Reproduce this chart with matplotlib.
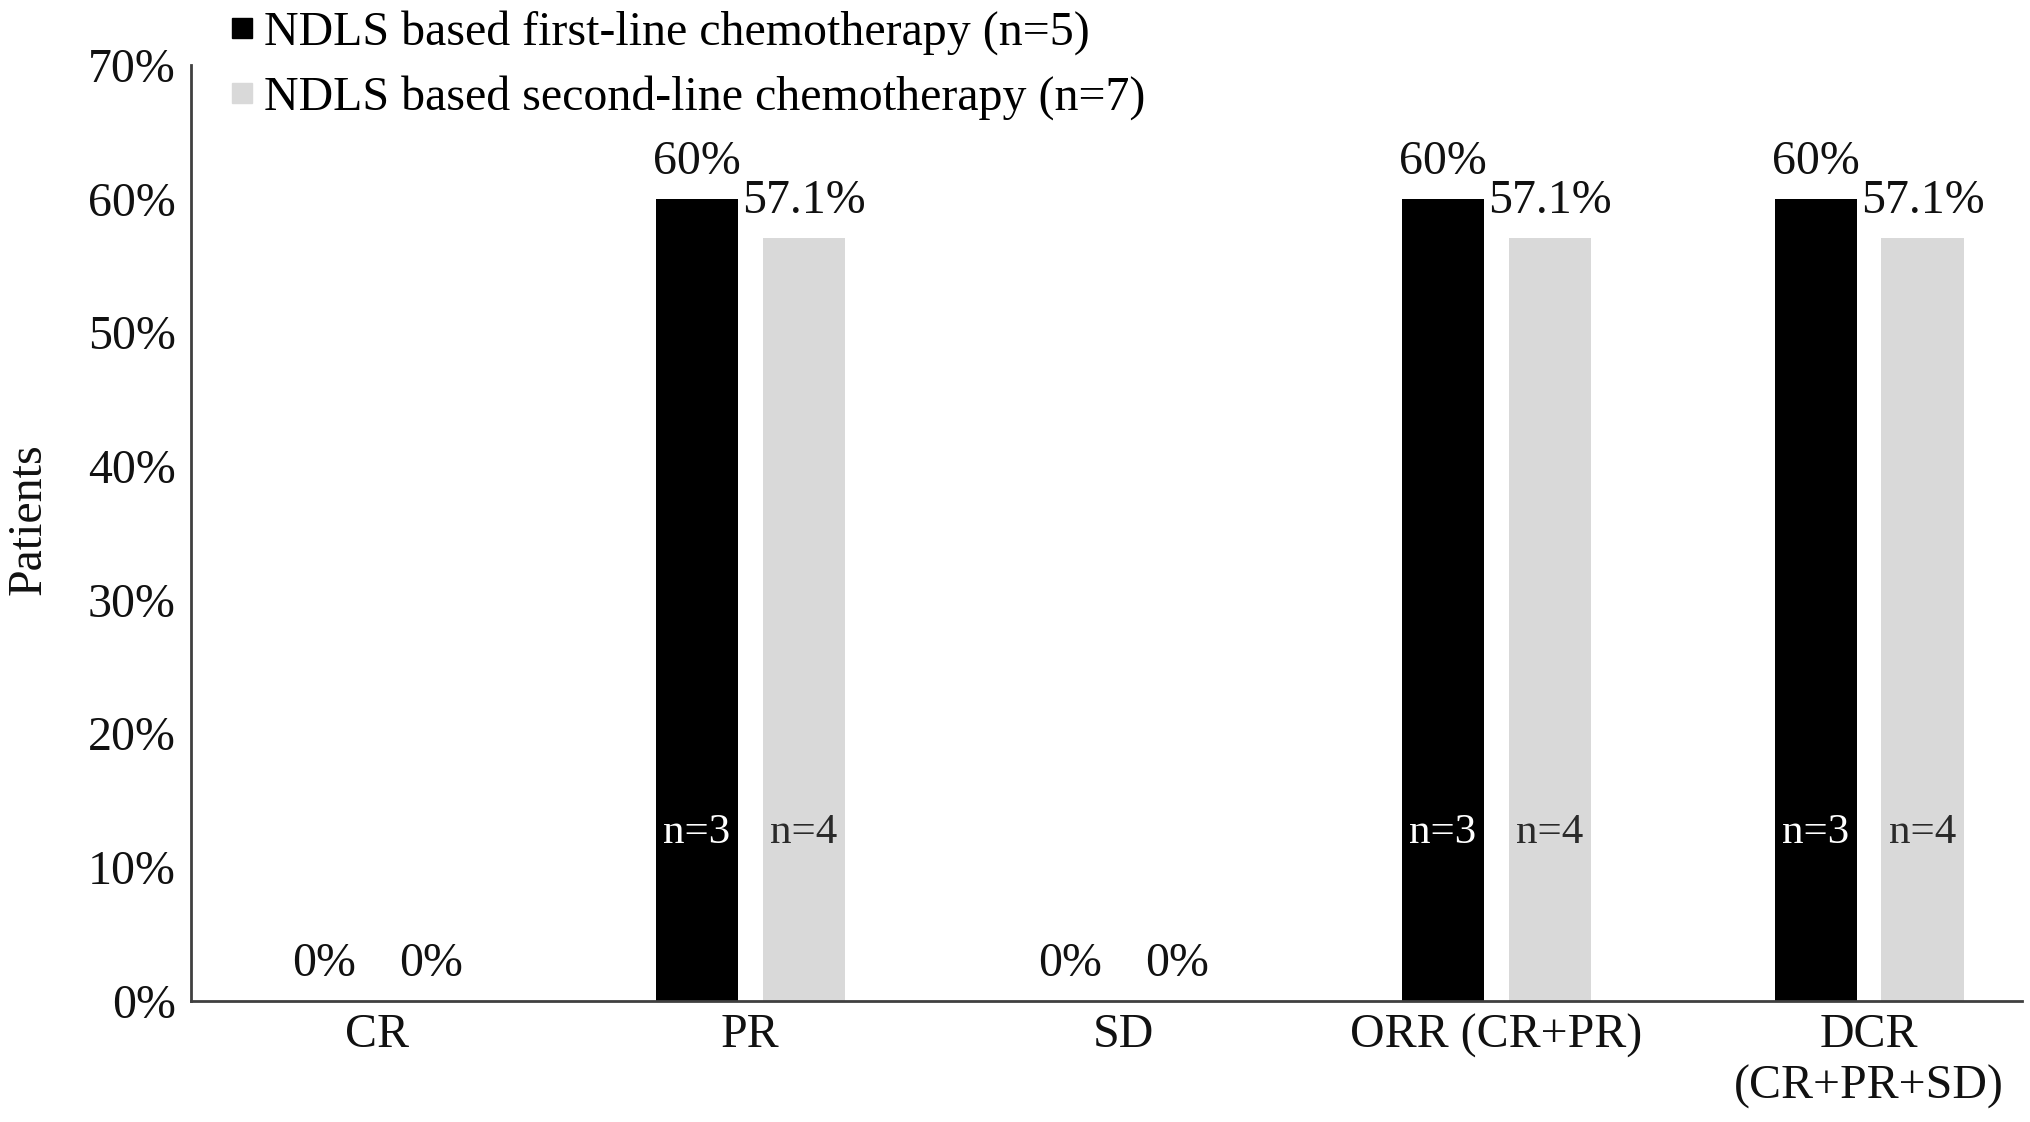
import numpy as np
import matplotlib
matplotlib.use('Agg')
import matplotlib.pyplot as plt
from matplotlib.lines import Line2D

plt.rcParams['font.family'] = ['Liberation Serif', 'DejaVu Serif']

categories = ['CR', 'PR', 'SD', 'ORR (CR+PR)', 'DCR\n(CR+PR+SD)']
first_line = [0, 60, 0, 60, 60]
second_line = [0, 57.1, 0, 57.1, 57.1]
first_n = [0, 3, 0, 3, 3]
second_n = [0, 4, 0, 4, 4]
series_names = ['NDLS based first-line chemotherapy (n=5)',
                'NDLS based second-line chemotherapy (n=7)']

c_first = '#000000'
c_second = '#d9d9d9'
fs = 34.5

fig = plt.figure(figsize=(20.31, 11.22), dpi=100)
ax = fig.add_axes([0.094, 0.108, 0.9016, 0.834])

x = np.arange(len(categories))
width = 0.22
off = 0.143

r1 = ax.bar(x - off, first_line, width, color=c_first)
r2 = ax.bar(x + off, second_line, width, color=c_second)

ax.set_ylim(0, 70)
ax.set_xlim(-0.5, 4.41)
ax.set_yticks(np.arange(0, 71, 10))
ax.set_yticklabels(['%d%%' % v for v in range(0, 71, 10)])
ax.set_xticks(x)
ax.set_xticklabels(categories)

for s in ['top', 'right']:
    ax.spines[s].set_visible(False)
for s in ['left', 'bottom']:
    ax.spines[s].set_color('#404040')
    ax.spines[s].set_linewidth(2)

ax.tick_params(axis='both', length=0, labelsize=fs, colors='#111111')
ax.tick_params(axis='y', pad=11)
ax.tick_params(axis='x', pad=9)


def autolabel(rects, vals):
    for rect, v in zip(rects, vals):
        ax.text(rect.get_x() + rect.get_width() / 2., v + 1.1, '%g%%' % v,
                ha='center', va='bottom', fontsize=fs, color='#111111')


def nlabel(rects, ns, col):
    for rect, n in zip(rects, ns):
        if n:
            ax.text(rect.get_x() + rect.get_width() / 2., 12.6, 'n=%d' % n,
                    ha='center', va='center', fontsize=31, color=col)


autolabel(r1, first_line)
autolabel(r2, second_line)
nlabel(r1, first_n, 'white')
nlabel(r2, second_n, '#2a2a2a')

fig.text(0.014, 0.537, 'Patients', rotation=90, ha='center', va='center',
         fontsize=fs, color='#111111')

handles = [Line2D([], [], marker='s', linestyle='none', markersize=15,
                  markerfacecolor=c, markeredgecolor=c)
           for c in (c_first, c_second)]
fig.legend(handles, series_names, loc='upper left',
           bbox_to_anchor=(0.103, 1.008), frameon=False, fontsize=fs,
           handlelength=0.55, handletextpad=0.2, labelspacing=0.42,
           borderaxespad=0)

plt.savefig('out.png', dpi=100)
